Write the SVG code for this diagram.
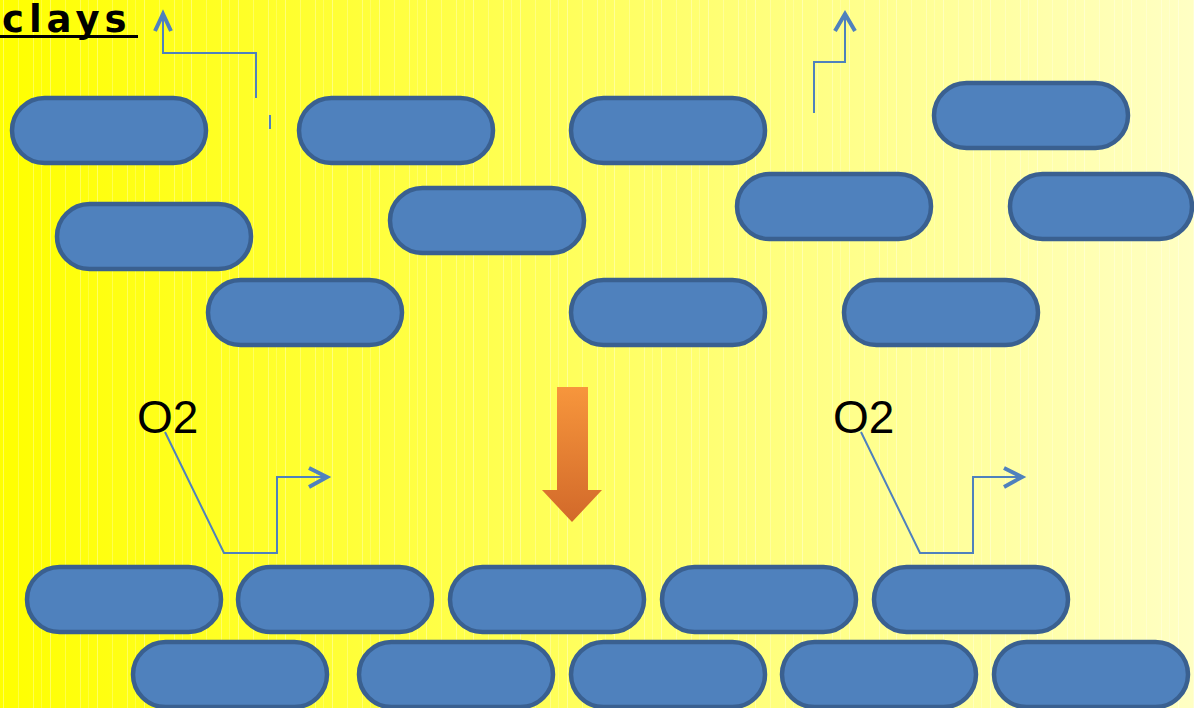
<svg xmlns="http://www.w3.org/2000/svg" width="1194" height="708" viewBox="0 0 1194 708">
  <defs>
    <linearGradient id="bg" x1="0" y1="0" x2="1" y2="0">
      <stop offset="0" stop-color="#ffff00"/>
      <stop offset="0.5" stop-color="#ffff60"/>
      <stop offset="1" stop-color="#ffffc4"/>
    </linearGradient>
    <pattern id="stripes" x="0" y="0" width="47" height="708" patternUnits="userSpaceOnUse">
      <rect x="3" y="0" width="1" height="708" fill="#ffffff" opacity="0.35"/>
      <rect x="18" y="0" width="1" height="708" fill="#ffffff" opacity="0.25"/>
      <rect x="33" y="0" width="1" height="708" fill="#ffffff" opacity="0.3"/>
      <rect x="41" y="0" width="1" height="708" fill="#ffffff" opacity="0.2"/>
    </pattern>
    <linearGradient id="orange" x1="0" y1="0" x2="0" y2="1">
      <stop offset="0" stop-color="#f7963c"/>
      <stop offset="1" stop-color="#d2692a"/>
    </linearGradient>
    <style>
      .pill { fill: #4f81bd; stroke: #3a6090; stroke-width: 4.5; }
      .conn { fill: none; stroke: #4f81bd; stroke-width: 2; }
      .head { fill: none; stroke: #4f81bd; stroke-width: 4; stroke-linejoin: miter; }
      .o2 { font-family: "Liberation Sans", Arial, sans-serif; font-size: 46px; fill: #000000; }
      .title { font-family: "DejaVu Sans", Verdana, sans-serif; font-weight: bold; font-size: 37px; letter-spacing: 5px; fill: #000000; }
    </style>
  </defs>

  <!-- background -->
  <rect x="0" y="0" width="1194" height="708" fill="url(#bg)"/>
  <rect x="0" y="0" width="1194" height="708" fill="url(#stripes)"/>

  <!-- title -->
  <g id="title">
    <text class="title" x="2" y="32">clays</text>
    <rect x="0" y="35" width="138" height="3" fill="#000000"/>
  </g>

  <!-- upper layer of particles -->
  <g id="p1"><rect class="pill" x="12" y="98" width="194" height="65" rx="32.5"/></g>
  <g id="p2"><rect class="pill" x="299" y="98" width="194" height="65" rx="32.5"/></g>
  <g id="p3"><rect class="pill" x="571" y="98" width="194" height="65" rx="32.5"/></g>
  <g id="p4"><rect class="pill" x="934" y="83" width="194" height="65" rx="32.5"/></g>
  <g id="p5"><rect class="pill" x="57" y="204" width="194" height="65" rx="32.5"/></g>
  <g id="p6"><rect class="pill" x="390" y="188" width="194" height="65" rx="32.5"/></g>
  <g id="p7"><rect class="pill" x="737" y="174" width="194" height="65" rx="32.5"/></g>
  <g id="p8"><rect class="pill" x="1010" y="174" width="182" height="65" rx="32.5"/></g>
  <g id="p9"><rect class="pill" x="208" y="280" width="194" height="65" rx="32.5"/></g>
  <g id="p10"><rect class="pill" x="571" y="280" width="194" height="65" rx="32.5"/></g>
  <g id="p11"><rect class="pill" x="844" y="280" width="194" height="65" rx="32.5"/></g>

  <!-- compacted layer of particles -->
  <g id="q1"><rect class="pill" x="27" y="567" width="194" height="65" rx="32.5"/></g>
  <g id="q2"><rect class="pill" x="238" y="567" width="194" height="65" rx="32.5"/></g>
  <g id="q3"><rect class="pill" x="450" y="567" width="194" height="65" rx="32.5"/></g>
  <g id="q4"><rect class="pill" x="662" y="567" width="194" height="65" rx="32.5"/></g>
  <g id="q5"><rect class="pill" x="874" y="567" width="194" height="65" rx="32.5"/></g>
  <g id="q6"><rect class="pill" x="133" y="642" width="194" height="65" rx="32.5"/></g>
  <g id="q7"><rect class="pill" x="359" y="642" width="194" height="65" rx="32.5"/></g>
  <g id="q8"><rect class="pill" x="571" y="642" width="194" height="65" rx="32.5"/></g>
  <g id="q9"><rect class="pill" x="782" y="642" width="194" height="65" rx="32.5"/></g>
  <g id="q10"><rect class="pill" x="994" y="642" width="194" height="65" rx="32.5"/></g>

  <!-- labels -->
  <g id="o2-left"><text class="o2" x="137" y="433">O2</text></g>
  <g id="o2-right"><text class="o2" x="833" y="433">O2</text></g>

  <!-- compaction arrow -->
  <g id="compaction">
    <polygon points="557,387 588,387 588,490 602,490 572,522 542,490 557,490" fill="url(#orange)"/>
  </g>

  <!-- connectors -->
  <g id="connectors">
    <polyline class="conn" points="256,98 256,53 163,53 163,14"/>
    <polyline class="head" points="155,31 163,14 171,31"/>
    <line class="conn" x1="270" y1="115" x2="270" y2="129"/>

    <polyline class="conn" points="814,113 814,62 845,62 845,14"/>
    <polyline class="head" points="835,31 845,14 855,31"/>

    <polyline class="conn" points="165,432 224,553 277,553 277,477 325,477"/>
    <polyline class="head" points="309,468 327,477 309,487"/>

    <polyline class="conn" points="861,432 920,553 973,553 973,477 1021,477"/>
    <polyline class="head" points="1004,468 1022,477 1004,487"/>
  </g>
</svg>
